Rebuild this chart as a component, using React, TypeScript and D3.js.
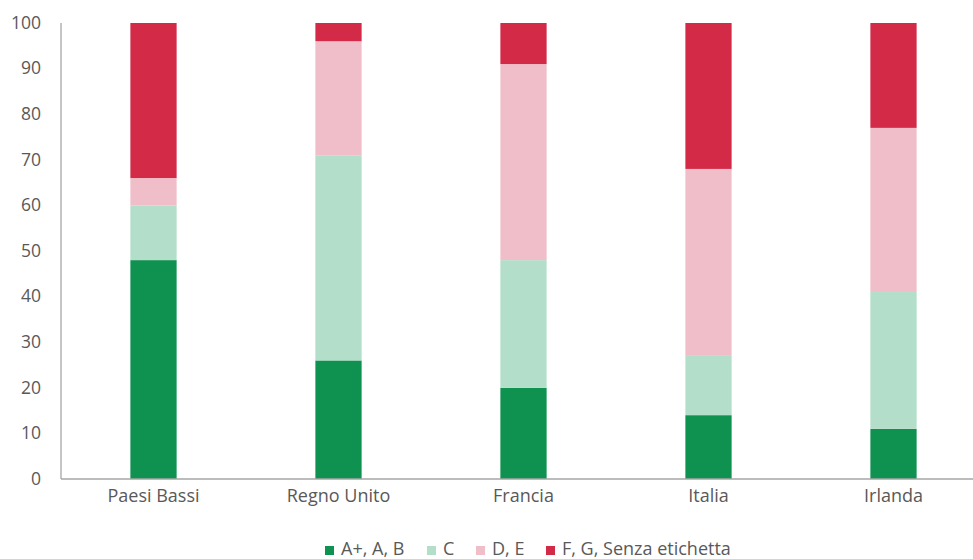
import React from "react";
import * as d3 from "d3";

const categories = ["Paesi Bassi", "Regno Unito", "Francia", "Italia", "Irlanda"];
const seriesNames = ["A+, A, B", "C", "D, E", "F, G, Senza etichetta"];
const seriesColors = ["#0f914f", "#b3dfca", "#f0bec8", "#d32a48"];
const valuesAB = [48, 26, 20, 14, 11];
const valuesC = [12, 45, 28, 13, 30];
const valuesDE = [6, 25, 43, 41, 36];
const valuesFG = [34, 4, 9, 32, 23];
const yTicks = [0, 10, 20, 30, 40, 50, 60, 70, 80, 90, 100];

const W = 973;
const H = 559;
const font = "'Open Sans', 'Noto Sans', sans-serif";
const textColor = "#595959";
const legendPos = [325, 427, 476, 546];

export default function App() {
  const x = d3.scaleBand<string>().domain(categories).range([61, 986]).paddingInner(0.75).paddingOuter(0.375);
  const y = d3.scaleLinear().domain([0, 100]).range([479, 23]);

  const rows = categories.map((c, i) => ({
    cat: c,
    s0: valuesAB[i],
    s1: valuesC[i],
    s2: valuesDE[i],
    s3: valuesFG[i],
  }));
  const stack = d3.stack<any>().keys(["s0", "s1", "s2", "s3"])(rows);

  return (
    <div style={{ position: "absolute", left: 0, top: 0 }}>
      <svg width={W} height={H} style={{ display: "block", background: "#fff" }}>
        {stack.map((layer, si) => (
          <g key={si} fill={seriesColors[si]}>
            {layer.map((d, i) => (
              <rect
                key={i}
                x={x(categories[i])}
                width={x.bandwidth()}
                y={y(d[1])}
                height={y(d[0]) - y(d[1])}
              />
            ))}
          </g>
        ))}
        <line x1={61} x2={W} y1={479} y2={479} stroke="#a6a6a6" strokeWidth={1.3} />
        <line x1={61} x2={61} y1={23} y2={479} stroke="#a6a6a6" strokeWidth={1.3} />
        {yTicks.map((t) => (
          <text key={t} x={41} y={y(t)} dy="0.33em" textAnchor="end" fontFamily={font} fontSize={17.5} fill={textColor}>
            {t}
          </text>
        ))}
        {categories.map((c) => (
          <text key={c} x={(x(c) as number) + x.bandwidth() / 2} y={502} textAnchor="middle" fontFamily={font} fontSize={18} fill={textColor}>
            {c}
          </text>
        ))}
        {seriesNames.map((n, i) => (
          <g key={i}>
            <rect x={legendPos[i]} y={546} width={9} height={9} fill={seriesColors[i]} />
            <text x={legendPos[i] + 16} y={555} fontFamily={font} fontSize={18} fill={textColor}>
              {n}
            </text>
          </g>
        ))}
      </svg>
    </div>
  );
}
